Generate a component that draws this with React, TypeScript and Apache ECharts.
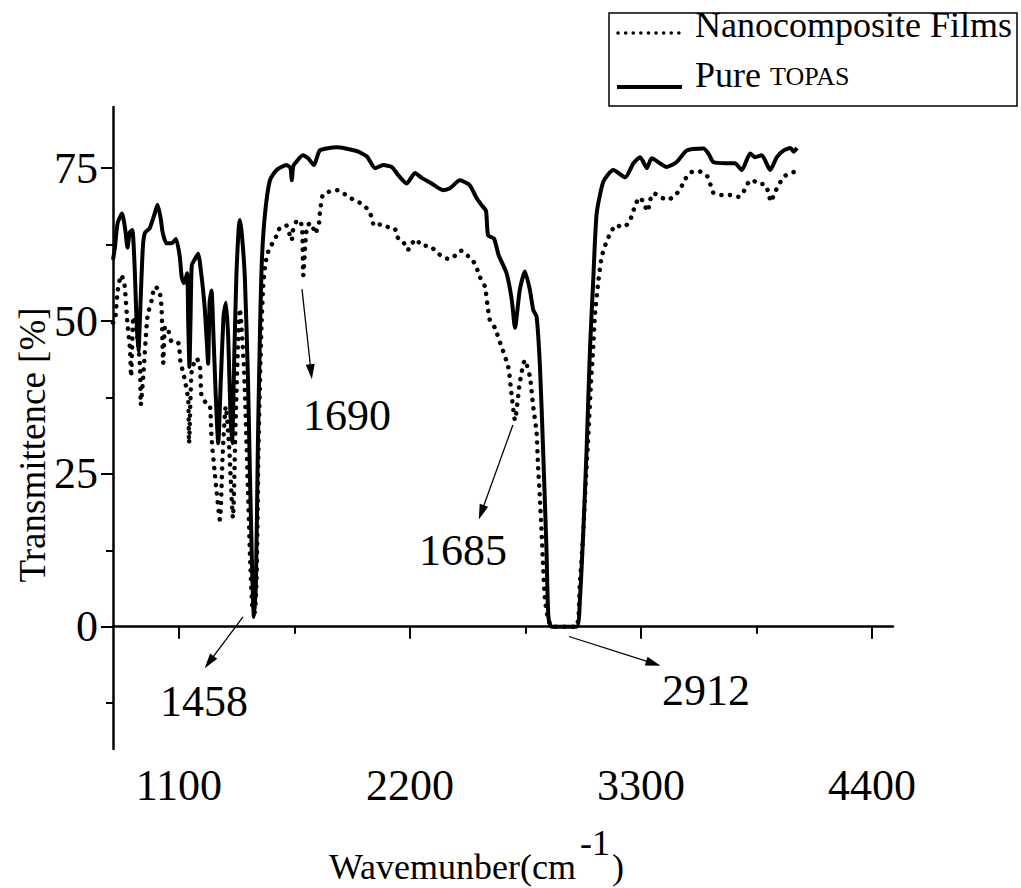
import React, { useEffect, useRef } from 'react';
import * as echarts from 'echarts';

const FONT = 'Liberation Serif';

// Pure TOPAS (solid line)
const pureWave = [786, 795, 808, 829, 844, 855, 866, 878, 890, 898, 907, 916, 928, 938, 961, 984, 998, 1012, 1023, 1041, 1065, 1086, 1104, 1113, 1124, 1139, 1144, 1150, 1155, 1161, 1174, 1191, 1208, 1215, 1223, 1232, 1239, 1246, 1255, 1264, 1275, 1287, 1299, 1313, 1324, 1335, 1345, 1353, 1364, 1374, 1384, 1390, 1400, 1414, 1429, 1438, 1448, 1457, 1467, 1476, 1486, 1495, 1510, 1533, 1565, 1612, 1631, 1637, 1644, 1653, 1690, 1715, 1743, 1771, 1851, 1946, 1995, 2034, 2073, 2113, 2143, 2184, 2224, 2256, 2303, 2357, 2390, 2438, 2485, 2517, 2540, 2562, 2572, 2600, 2622, 2660, 2685, 2700, 2723, 2747, 2771, 2787, 2803, 2819, 2834, 2850, 2859, 2874, 2993, 3009, 3025, 3041, 3057, 3072, 3089, 3121, 3168, 3225, 3264, 3296, 3328, 3351, 3423, 3470, 3518, 3597, 3621, 3644, 3709, 3748, 3780, 3820, 3843, 3875, 3915, 3947, 3980, 4012, 4027, 4043];
const pureT = [60, 62, 66, 67.6, 65, 62, 64.5, 64.9, 58, 50, 45, 52, 62, 64.4, 65.2, 67.5, 69, 67, 64.4, 62.7, 62.7, 63.4, 60.5, 57.2, 56.2, 57.8, 50, 42.5, 50, 59.1, 60, 61, 57.2, 55, 52, 47, 43, 53, 55, 48, 38, 30, 40, 51, 53, 47, 35, 30, 45, 58, 65, 66.5, 64, 57, 40, 25, 10, 1.6, 8, 30, 48.5, 60, 67.6, 73, 74.7, 75.5, 75, 73, 75.3, 75.8, 77.1, 76.6, 75.5, 77.9, 78.4, 77.8, 76.9, 75, 75.5, 75.2, 73.9, 72.5, 74.2, 73.4, 72.5, 71.4, 71.7, 73, 72.2, 70.1, 69, 68, 64, 63.5, 60.8, 57.8, 53.4, 48.9, 55.1, 58.1, 55.1, 51.8, 50.7, 42.5, 28.9, 12.6, 1.7, 0, 0, 4.4, 15.3, 28.9, 45.3, 56.2, 67.6, 72.8, 74.7, 73.5, 75.8, 76.8, 75, 76.6, 75.2, 76, 77.9, 78.2, 77.4, 76, 75.8, 75.8, 74.7, 77.4, 76.8, 77.1, 74.7, 76.8, 77.9, 78.3, 77.7, 78.3];

// Nanocomposite Films (dotted line)
const nanoWave = [786, 796, 809, 825, 840, 855, 867, 872, 883, 898, 915, 918, 930, 950, 970, 985, 1006, 1017, 1025, 1034, 1049, 1065, 1097, 1108, 1121, 1144, 1148, 1161, 1184, 1200, 1208, 1232, 1248, 1255, 1271, 1295, 1308, 1323, 1338, 1357, 1371, 1390, 1410, 1429, 1440, 1450, 1460, 1470, 1478, 1487, 1493, 1501, 1510, 1518, 1533, 1557, 1573, 1609, 1637, 1641, 1658, 1676, 1687, 1692, 1704, 1713, 1731, 1748, 1767, 1771, 1785, 1819, 1859, 1891, 1928, 1963, 1995, 2018, 2030, 2059, 2094, 2128, 2140, 2166, 2189, 2208, 2229, 2256, 2290, 2327, 2358, 2394, 2418, 2446, 2477, 2509, 2533, 2557, 2569, 2580, 2604, 2636, 2668, 2683, 2700, 2723, 2747, 2771, 2787, 2803, 2810, 2819, 2827, 2834, 2843, 2859, 2878, 2990, 3009, 3025, 3037, 3050, 3062, 3072, 3080, 3096, 3113, 3136, 3154, 3181, 3213, 3240, 3261, 3272, 3296, 3320, 3333, 3341, 3360, 3392, 3427, 3464, 3488, 3511, 3535, 3575, 3615, 3631, 3644, 3684, 3733, 3764, 3787, 3803, 3831, 3858, 3887, 3907, 3918, 3937, 3957, 3980, 4014, 4041];
const nanoT = [49.7, 50.2, 55.1, 57.5, 56.2, 49.6, 45.3, 40.9, 50.7, 48.5, 42.5, 36.3, 40.9, 50.7, 53.4, 55.6, 55.1, 52.3, 43.1, 49.1, 48.5, 46.6, 46.4, 43.1, 41.5, 37.1, 30, 42, 43.9, 42.5, 37.6, 36.5, 36, 31, 25, 17.5, 28, 36, 30, 17.8, 35, 52, 42, 22, 10, 3, 2.3, 8, 28, 42, 49.1, 55.6, 58.9, 60.5, 62.1, 63.2, 64.9, 65.7, 63.2, 64.6, 66.2, 66.5, 64.9, 57.5, 63.8, 65.7, 66, 64.3, 66, 67.6, 70.6, 71.2, 71.4, 70.7, 69.9, 69.3, 68.4, 67, 65.5, 65.8, 65.4, 65.1, 63.7, 63.1, 61.6, 62.6, 63.4, 62.3, 62.3, 61.3, 60.4, 60.1, 60.8, 61.5, 60.6, 59.4, 57.2, 55.6, 52.6, 50.2, 48.9, 45.8, 42.5, 38.2, 33.8, 39.9, 43.6, 40.9, 36, 31.7, 26.2, 20.8, 15.3, 9.9, 4.4, 1.1, 0, 0, 7.1, 15.3, 23.5, 31.7, 39.9, 45.3, 50.7, 56.2, 60.5, 63, 64.3, 65.7, 65.3, 66, 67.6, 69, 70.2, 68.7, 67.9, 69.5, 70.9, 70.3, 69.8, 70.6, 71.7, 73.2, 74.3, 74.5, 73.7, 72.3, 71, 70.6, 70.6, 70.3, 71, 72.3, 73.1, 72.4, 72.4, 71, 69.5, 71, 72.3, 73.6, 74.2, 74.5];

const xTickValues = [1100, 2200, 3300, 4400];
const xMinorTicks = [1650, 2750, 3850];
const yTickValues = [0, 25, 50, 75];
const yMinorTicks = [-12.5, 12.5, 37.5, 62.5];

// Peak annotations
const annotationLabels = ['1690', '1685', '1458', '2912'];
const arrowFrom = [[1686, 55.2], [2690, 33.0], [1405, 1.6], [2957, -1.6]];
const arrowTo = [[1729, 41.7], [2540, 18.7], [1244, -5.8], [3359, -6.0]];
const labelPos = [[1900, 34.6], [2452, 12.4], [1219, -12.3], [3610, -10.5]];

const X_MIN = 786;
const X_MAX = 4500;
const Y_MIN = -20;
const Y_MAX = 85;

export default function App() {
  const ref = useRef<HTMLDivElement>(null);
  useEffect(() => {
    if (!ref.current) return;
    const chart = echarts.init(ref.current, null, { renderer: 'svg' });
    const gridBox = { left: 113, right: 128, top: 107, bottom: 139, containLabel: false, outerBoundsMode: 'none' };
    const axisColor = '#000';
    const plain = (v: number) => String(v);
    const option: any = {
      animation: false,
      backgroundColor: '#fff',
      textStyle: { fontFamily: FONT },
      grid: [{ ...gridBox }, { ...gridBox }],
      xAxis: [
        {
          type: 'value', gridIndex: 0, min: X_MIN, max: X_MAX,
          axisLine: { show: true, lineStyle: { color: axisColor, width: 2.5 } },
          axisTick: { show: true, customValues: xTickValues, length: 12, lineStyle: { color: axisColor, width: 2 } },
          axisLabel: { show: true, customValues: xTickValues, formatter: plain, fontSize: 44, fontFamily: FONT, color: '#000', margin: 14 },
          splitLine: { show: false },
        },
        {
          type: 'value', gridIndex: 1, min: X_MIN, max: X_MAX,
          axisLine: { show: false },
          axisTick: { show: true, customValues: xMinorTicks, length: 7, lineStyle: { color: axisColor, width: 2 } },
          axisLabel: { show: false },
          splitLine: { show: false },
        },
      ],
      yAxis: [
        {
          type: 'value', gridIndex: 0, min: Y_MIN, max: Y_MAX,
          axisLine: { show: true, lineStyle: { color: axisColor, width: 2.5 } },
          axisTick: { show: true, customValues: yTickValues, length: 12, lineStyle: { color: axisColor, width: 2 } },
          axisLabel: { show: true, customValues: yTickValues, formatter: plain, fontSize: 44, fontFamily: FONT, color: '#000', margin: 15 },
          splitLine: { show: false },
        },
        {
          type: 'value', gridIndex: 1, min: Y_MIN, max: Y_MAX,
          axisLine: { show: false },
          axisTick: { show: true, customValues: yMinorTicks, length: 7, lineStyle: { color: axisColor, width: 2 } },
          axisLabel: { show: false },
          splitLine: { show: false },
        },
      ],
      series: [
        {
          name: 'Pure TOPAS',
          type: 'line',
          xAxisIndex: 0, yAxisIndex: 0,
          data: pureWave.map((w, i) => [w, pureT[i]]),
          symbol: 'none',
          smooth: 0.2,
          lineStyle: { color: '#000', width: 4, join: 'round' },
          z: 3,
          markLine: {
            silent: true,
            symbol: ['none', 'arrow'],
            label: { show: false },
            lineStyle: { color: '#000', width: 1.3, type: 'solid' },
            emphasis: { disabled: true },
            data: arrowFrom.map((f, i) => [
              { coord: f, symbol: 'none' },
              { coord: arrowTo[i], symbol: 'path://M5,0 L10,18 L0,18 Z', symbolSize: [9, 15] },
            ]),
          },
          markPoint: {
            silent: true,
            symbol: 'rect',
            symbolSize: 1,
            itemStyle: { color: 'rgba(0,0,0,0)' },
            label: { show: true, position: 'inside', color: '#000', fontSize: 44, fontFamily: FONT, formatter: '{b}' },
            data: annotationLabels.map((t, i) => ({ name: t, coord: labelPos[i] })),
          },
        },
        {
          name: 'Nanocomposite Films',
          type: 'line',
          xAxisIndex: 0, yAxisIndex: 0,
          data: nanoWave.map((w, i) => [w, nanoT[i]]),
          symbol: 'none',
          smooth: 0.2,
          lineStyle: { color: '#000', width: 4.5, type: [0.1, 8.5], cap: 'round' },
          z: 2,
        },
      ],
      graphic: [
        { type: 'rect', z: 100, shape: { x: 609, y: 13, width: 408, height: 93 }, style: { fill: '#fff', stroke: '#000', lineWidth: 1.5 } },
        { type: 'line', z: 101, shape: { x1: 618, y1: 33, x2: 682, y2: 33 }, style: { stroke: '#000', lineWidth: 3.5, lineDash: [0.1, 7.5], lineCap: 'round' } },
        { type: 'text', z: 101, x: 695, y: 25, style: { text: 'Nanocomposite Films', fontSize: 36, fontFamily: FONT, fill: '#000', align: 'left', verticalAlign: 'middle' } },
        { type: 'line', z: 101, shape: { x1: 617, y1: 87, x2: 682, y2: 87 }, style: { stroke: '#000', lineWidth: 4 } },
        { type: 'text', z: 101, x: 695, y: 75, style: { text: 'Pure', fontSize: 36, fontFamily: FONT, fill: '#000', align: 'left', verticalAlign: 'middle' } },
        { type: 'text', z: 101, x: 770, y: 76, style: { text: 'TOPAS', fontSize: 26, fontFamily: FONT, fill: '#000', align: 'left', verticalAlign: 'middle' } },
        { type: 'text', z: 101, x: 329, y: 867, style: { text: 'Wavemunber(cm', fontSize: 36, fontFamily: FONT, fill: '#000', align: 'left', verticalAlign: 'middle' } },
        { type: 'text', z: 101, x: 580, y: 843, style: { text: '-1', fontSize: 36, fontFamily: FONT, fill: '#000', align: 'left', verticalAlign: 'middle' } },
        { type: 'text', z: 101, x: 612, y: 867, style: { text: ')', fontSize: 36, fontFamily: FONT, fill: '#000', align: 'left', verticalAlign: 'middle' } },
        { type: 'text', z: 101, x: 32, y: 445, rotation: Math.PI / 2, style: { text: 'Transmittence [%]', fontSize: 37, fontFamily: FONT, fill: '#000', align: 'center', verticalAlign: 'middle' } },
      ],
    };
    chart.setOption(option);
    return () => chart.dispose();
  }, []);
  return <div ref={ref} style={{ position: 'fixed', left: 0, top: 0, width: 1021, height: 888, background: '#fff' }} />;
}
